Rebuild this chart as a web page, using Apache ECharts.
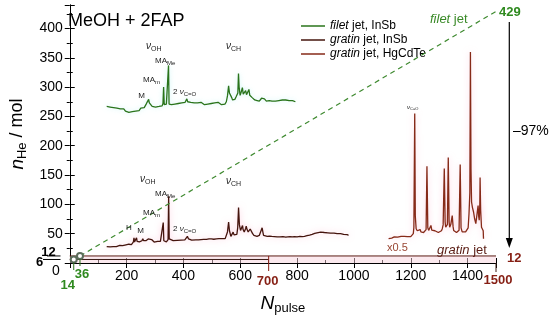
<!DOCTYPE html>
<html><head><meta charset="utf-8">
<script src="https://cdn.jsdelivr.net/npm/echarts/dist/echarts.min.js"></script>
<style>html,body{margin:0;padding:0;background:#fff}#c{width:550px;height:320px}</style>
</head><body><div id="c"></div>
<script>
// ---- spectra (inset traces, plotted in axis units) ----
const filetX = [130,136,142,148,154,160,166,172,178,184,190,196,202,208,214,220,226,232,238,244,250,256,262,268,272,275,277.6,280,284,290,296,302,308,314,320,325,328,330.3,332.5,336,340,344,346,347.6,349.5,352,358,364,370,376,382,388,394,400,406,409,412,415,420,426,432,438,444,450,456,462,468,474,480,486,492,498,504,510,516,522,528,534,540,546,551,555,559,562,564,567,570,573,577,581,585,589,591.5,593.8,596,599.5,603,607.5,610.5,613.3,616,619,622,624.8,627.5,630.5,633.5,636.2,639,642,645,647.8,651,655,659.3,663,667,671,675,678.8,682,685,688,692,697,702,707,712,718,724,730,736,742,748,754,760,766,772,778,784,790,794];
const filetY = [267,269,266,268,265,267,264,266,263,261,263,259,261,257,260,258,261,259,262,260,264,266,265,270,274,276,279,273,270,267,268,266,269,267,270,268,272,300,270,268,271,269,272,337,271,268,270,268,271,269,272,270,273,271,274,276,280,275,272,274,271,273,270,273,271,274,272,270,273,271,274,272,270,273,271,274,272,270,273,271,275,285,302,290,289,292,282,278,281,279,283,281,290,323,300,286,291,299,288,286,290,294,287,290,288,296,286,283,287,282,280,281,278,280,277,279,276,278,281,284,279,280,278,276,279,277,279,276,278,276,279,277,275,278,276,278,275,277,275,277,274,275];

const gratinInSbX = [130,136,142,148,153,158,164,171,176,181,186,192,198,204,208,212,217,222,224,226,228,230,232,235,237,240,245,250,254,257,260,264,268,272,276,280,283,288,292,297,303,309,314,319,323,326,329,331,333,337,340,344,346,348,350,352,357,364,371,378,385,392,398,405,410,414,418,422,429,436,444,453,462,471,481,490,498,507,516,525,533,540,547,551,555,559,562,564,567,571,575,578,581,585,588,591,594,597,601,604,608,610,612,614,616,619,621,624,626,628,630,635,639,641,643,648,653,659,663,667,672,677,680,682,688,695,703,711,720,730,740,750,760,767,775,783,791,800,810,818,826,835,844,853,862,870,876,883,890,896,902,908,913,918,924,930,936,941,947,953,958,964,970,976,981];
const gratinInSbY = [28,29,27.5,29,28,29.5,28,29,30,30,29.5,31,31,30.5,32,32,31.5,33,36,43,36,33,37,43,37,35,36,36,38,41.5,38,37,38,38.5,41,44,41,40,37,35.7,37,37,36,37,36,37,69,38,37,36,36,38.6,40,114,41,38.6,38.6,38,37.7,38.5,38,39,38.5,39.4,40,45.4,41,40,39,38.6,39.5,39.4,40,40.3,40.3,41,41,40.5,41,41.5,41.5,41,41.5,44,53,70,55,52,45.4,48,52.7,48,45.4,47,48.8,60,94.4,65,55.6,58,64,57,54,53,55.6,59,63,57,54,53,55.6,58,61,55,50.5,47,46,45.4,46,47,50,60,52,47,46,45.4,46,45.4,45,44.5,44.5,45,44,44.2,45,44.5,45,44.5,45.5,45,45.4,46.5,47.5,48.8,50.5,51.5,52,52.7,51.5,52,50.5,51.5,50,51,49.5,51,49.5,50,48.5,50,48.5,48.8,47.5,48.5,47.1];

const gratinHgX = [1122,1128,1133,1136,1142,1148,1154,1160,1166,1171,1177,1182,1188,1194,1200,1205,1209,1211,1214,1216,1219,1223,1228,1233,1236,1240,1245,1251,1254,1257,1260,1263,1267,1271,1274,1280,1285,1291,1297,1303,1308,1311,1314,1318,1321,1323,1327,1329,1332,1335,1337,1341,1344,1346,1349,1351,1356,1361,1366,1370,1374,1377,1381,1388,1393,1398,1402,1405,1408,1410,1412,1414,1417,1421,1425,1429,1432,1434,1437,1439,1441,1443,1444,1446,1449,1451,1453,1455,1456];
const gratinHgY = [41.5,43,42.5,43.7,44.5,45.4,44,44.5,45.5,44.2,45.5,44.5,45,46,45,45.4,50,61,255,80,58.5,55,52.7,57,53,55.6,52,52.7,57,165,60,55.6,58,64,56,52.7,55,54,52,52.7,55,58.5,65,161,70,61,60,66,180,70,61,66,75,81,62,55.6,54,52,52.7,56,168,60,53,54,53,55.6,60,84,120,360,160,104,95,87,75,67,66,69,98,80,73,100,146,90,61,62,64,55,41.5];

// ---- helium consumption (N_pulse, n_He / mol) ----
const filetUseN = [14, 36];
const filetUseHe = [6, 12];
const filetExtrapN = [36, 1500];
const filetExtrapHe = [12, 429];
const gratinInSbUseN = [0, 700];
const gratinInSbUseHe = [6, 6];
const gratinHgUseN = [0, 1500];
const gratinHgUseHe = [12, 12];

const seriesNames = ['filet jet, InSb', 'gratin jet, InSb', 'gratin jet, HgCdTe'];

const zip = (a, b) => a.map((v, i) => [v, b[i]]);
const FONT = 'Liberation Sans, Arial, sans-serif';
const GREEN = '#2a741b', MAROON = '#45140d', HG = '#862a18', DKRED = '#861f14';

const chart = echarts.init(document.getElementById('c'), null, {renderer: 'canvas'});

const axisCommon = {
  type: 'value', min: 0,
  axisLine: {show: true, lineStyle: {color: '#000', width: 1}},
  splitLine: {show: false},
  axisTick: {show: true, inside: true, length: 5, lineStyle: {color: '#000'}},
  minorTick: {show: true, splitNumber: 2, length: 3, lineStyle: {color: '#000'}},
};

chart.setOption({
  animation: false,
  textStyle: {fontFamily: FONT},
  grid: {left: 60, right: 54, top: 5, bottom: 57, containLabel: false},
  legend: {
    data: seriesNames, orient: 'vertical', left: 296, top: 14, itemGap: 0,
    icon: 'rect', itemWidth: 24, itemHeight: 1.5, selectedMode: false,
    formatter: n => n.replace(/^(filet|gratin)/, '{i|$1}'),
    textStyle: {fontSize: 12, color: '#000', lineHeight: 14, fontFamily: FONT,
      rich: {i: {fontStyle: 'italic', fontSize: 12, fontFamily: FONT}}}
  },
  xAxis: [
    Object.assign({}, axisCommon, {
      max: 1500, interval: 200, position: 'bottom',
      axisLabel: {fontSize: 14, color: '#000', margin: 6,
        formatter: v => (v === 0 || v === 1500) ? '' : String(v)},
      name: '{i|N}{s|pulse}', nameLocation: 'middle', nameGap: 30,
      nameTextStyle: {rich: {i: {fontStyle: 'italic', fontSize: 19, fontFamily: FONT},
        s: {fontSize: 13, padding: [9, 0, 0, 0], fontFamily: FONT}}}
    }),
    Object.assign({}, axisCommon, {
      max: 1500, interval: 200, position: 'top', axisLabel: {show: false},
      minorTick: {show: false}
    })
  ],
  yAxis: [
    Object.assign({}, axisCommon, {
      max: 440, interval: 50, position: 'left',
      axisLabel: {fontSize: 14, color: '#000', margin: 7,
        formatter: v => (v === 0 || v === 440) ? '' : String(v)},
      name: '{i|n}{s|He}{r| / mol}', nameLocation: 'middle', nameGap: 36,
      nameTextStyle: {rich: {i: {fontStyle: 'italic', fontSize: 19, fontFamily: FONT},
        s: {fontSize: 13, padding: [9, 0, 0, 0], fontFamily: FONT},
        r: {fontSize: 18, fontFamily: FONT}}}
    }),
    Object.assign({}, axisCommon, {
      max: 440, interval: 50, position: 'right', axisLabel: {show: false}
    })
  ],
  series: [
    {name: 'band', type: 'line', data: zip(gratinHgUseN, gratinHgUseHe), symbol: 'none',
      lineStyle: {color: '#5b1a12', width: 1}, areaStyle: {color: 'rgba(246,210,220,0.7)'}, z: 1},
    {name: 'six', type: 'line', data: zip(gratinInSbUseN, gratinInSbUseHe), symbol: 'none',
      lineStyle: {color: '#3a1a14', width: 1}, z: 2},
    {name: seriesNames[0], type: 'line', data: zip(filetX, filetY), symbol: 'none', color: GREEN,
      lineStyle: {color: GREEN, width: 1.3, shadowColor: 'rgba(150,235,235,0.55)', shadowBlur: 5}, z: 3},
    {name: seriesNames[1], type: 'line', data: zip(gratinInSbX, gratinInSbY), symbol: 'none', color: MAROON,
      lineStyle: {color: MAROON, width: 1.3, shadowColor: 'rgba(255,150,185,0.55)', shadowBlur: 6}, z: 3},
    {name: seriesNames[2], type: 'line', data: zip(gratinHgX, gratinHgY), symbol: 'none', color: HG,
      lineStyle: {color: HG, width: 1.3, shadowColor: 'rgba(255,160,195,0.55)', shadowBlur: 6}, z: 3},
    {name: 'filetUse', type: 'line', data: zip(filetUseN, filetUseHe), symbol: 'emptyCircle', symbolSize: 6,
      showSymbol: true, itemStyle: {color: '#5c6e5c', borderWidth: 1}, lineStyle: {color: GREEN, width: 1}, z: 5},
    {name: 'filetExtrap', type: 'line', data: zip(filetExtrapN, filetExtrapHe), symbol: 'none',
      lineStyle: {color: '#3f8a30', width: 1.2, type: [5, 4]}, z: 4}
  ]
});

// ---- annotations ----
const px = (x, y) => chart.convertToPixel({gridIndex: 0}, [x, y]);
const axisY = px(0, 0)[1];
const g = [];
function txt(x, y, text, st) {
  g.push({type: 'text', x: x, y: y, z: 50, style: Object.assign({text: text, fontFamily: FONT, fontSize: 12,
    fill: '#000', align: 'left', verticalAlign: 'middle'}, st || {})});
}
function ln(x1, y1, x2, y2, color, w) {
  g.push({type: 'line', z: 40, shape: {x1: x1, y1: y1, x2: x2, y2: y2}, style: {stroke: color, lineWidth: w || 1}});
}
const nuRich = (fs, ss) => ({v: {fontStyle: 'italic', fontSize: fs, fontFamily: FONT, fill: '#222'},
  n: {fontSize: fs, fontFamily: FONT, fill: '#222'},
  s: {fontSize: ss, fontFamily: FONT, padding: [Math.round(fs * 0.6), 0, 0, 0], fill: '#222'}});

txt(68, 21, 'MeOH + 2FAP', {fontSize: 18});
txt(430, 19, '{i|filet} jet', {fontSize: 13, fill: '#3a8a28',
  rich: {i: {fontStyle: 'italic', fontSize: 13, fill: '#3a8a28', fontFamily: FONT}}});
txt(499, 12, '429', {fontSize: 13, fontWeight: 'bold', fill: '#2f8a1f'});
txt(513, 131, '\u201397%', {fontSize: 14});
txt(507, 258, '12', {fontSize: 13, fontWeight: 'bold', fill: DKRED});
txt(437, 250, '{i|gratin} jet', {fontSize: 13, fill: '#5a1d14',
  rich: {i: {fontStyle: 'italic', fontSize: 13, fill: '#5a1d14', fontFamily: FONT}}});
txt(387, 248, 'x0.5', {fontSize: 11, fill: '#9a4634'});
// left extra tick labels
const y12 = px(0, 12)[1], y6 = px(0, 6)[1];
ln(47, y12, 60.5, y12, '#000', 1);
ln(43, y6, 60.5, y6, '#000', 1);
txt(48.5, y12 - 4, '12', {fontSize: 13, fontWeight: 'bold', align: 'center'});
txt(39.5, y6 + 3, '6', {fontSize: 13, fontWeight: 'bold', align: 'center'});
txt(56, 271, '0', {fontSize: 14, align: 'center'});
// drop lines below axis
const p14 = px(14, 6), p36 = px(36, 12), p700 = px(700, 12), p1500 = px(1500, 0);
ln(p14[0], p14[1] + 3, p14[0], axisY + 7, GREEN, 1);
ln(p36[0], p36[1] + 3, p36[0], axisY + 3, GREEN, 1);
ln(p700[0], p700[1], p700[0], axisY + 8, DKRED, 1);
ln(p1500[0], p1500[1], p1500[0], axisY + 9, '#3a1a14', 1);
txt(p14[0] - 6, 285, '14', {fontSize: 13, fontWeight: 'bold', fill: '#2f8a1f', align: 'center'});
txt(p36[0] + 2, 274, '36', {fontSize: 13, fontWeight: 'bold', fill: '#2f8a1f', align: 'center'});
txt(p700[0] - 1, 281, '700', {fontSize: 13, fontWeight: 'bold', fill: DKRED, align: 'center'});
txt(p1500[0] + 2, 280, '1500', {fontSize: 13, fontWeight: 'bold', fill: DKRED, align: 'center'});
// arrow
ln(509.3, 22, 509.3, 240, '#000', 1.2);
g.push({type: 'polygon', z: 40, shape: {points: [[505.8, 238], [512.8, 238], [509.3, 248]]}, style: {fill: '#000'}});
// spectral band labels
const R = nuRich(10, 7), Rm = nuRich(8, 6);
txt(146, 46, '{v|\u03BD}{s|OH}', {rich: R});
txt(155, 61, '{n|MA}{s|Me}', {rich: Rm});
txt(143, 80, '{n|MA}{s|m}', {rich: Rm});
txt(141.5, 96, 'M', {fontSize: 8, align: 'center', fill: '#222'});
txt(173, 92, '{n|2 }{v|\u03BD}{s|C=O}', {rich: Rm});
txt(226, 46, '{v|\u03BD}{s|CH}', {rich: R});
txt(140, 179, '{v|\u03BD}{s|OH}', {rich: R});
txt(155, 194, '{n|MA}{s|Me}', {rich: Rm});
txt(143, 213, '{n|MA}{s|m}', {rich: Rm});
txt(129, 228, 'H', {fontSize: 8, align: 'center', fill: '#222'});
txt(140.5, 231, 'M', {fontSize: 8, align: 'center', fill: '#222'});
txt(173, 229, '{n|2 }{v|\u03BD}{s|C=O}', {rich: Rm});
txt(226, 181, '{v|\u03BD}{s|CH}', {rich: R});
txt(407, 107, '{v|\u03BD}{s|C=O}', {rich: nuRich(6, 4)});

chart.setOption({graphic: g});
</script></body></html>
